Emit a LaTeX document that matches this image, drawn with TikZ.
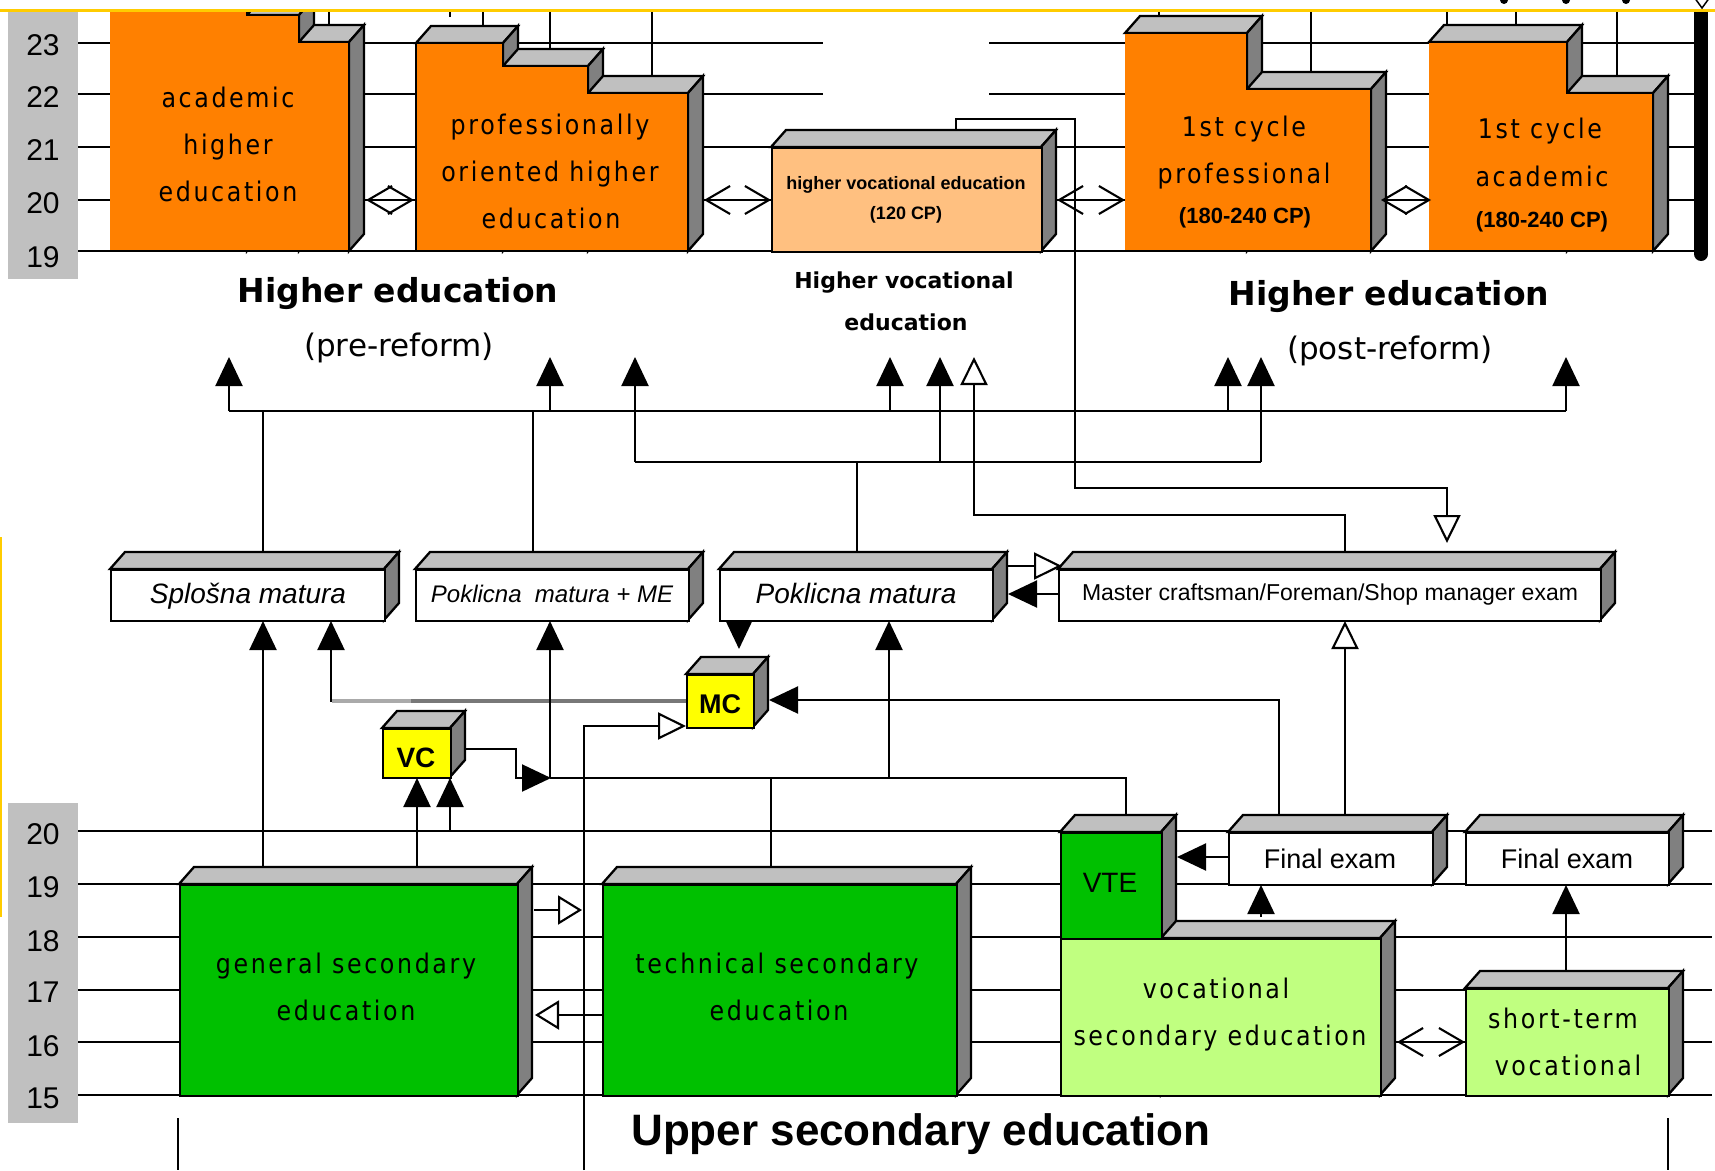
\documentclass[tikz,border=0pt]{standalone}
\usepackage{fontspec}
\usepackage{graphicx}
\setmainfont{Liberation Sans}
\newfontfamily\ar{Liberation Sans}
\newfontfamily\dv{DejaVu Sans}
\newfontfamily\bx{DejaVu Sans}[LetterSpace=11]
\usetikzlibrary{arrows.meta}
\definecolor{orng}{RGB}{255,128,0}
\definecolor{lorng}{RGB}{255,192,128}
\definecolor{grn}{RGB}{0,192,0}
\definecolor{lgrn}{RGB}{192,255,128}
\definecolor{yel}{RGB}{255,255,0}
\definecolor{topg}{RGB}{192,192,192}
\definecolor{sideg}{RGB}{128,128,128}
\definecolor{gold}{RGB}{255,204,0}
\definecolor{mcgray}{RGB}{120,120,120}
\definecolor{mcgrayl}{RGB}{170,170,170}
\newcommand\bxt[1]{{\bx\fontsize{27}{27}\selectfont\scalebox{0.88}[1]{#1}}}
\newcommand\mkstep[4]{%
  \draw[tf] (#1,#3) -- ({#1+15},{#3-17}) -- ({#2+15},{#3-17}) -- (#2,#3) -- cycle;
  \draw[sf] (#2,#3) -- ({#2+15},{#3-17}) -- ({#2+15},{#4-17}) -- (#2,#4) -- cycle;}
\newcommand\mkcube[6]{%
  \mkstep{#2}{#4}{#3}{#5}%
  \node[ff,fill=#6,inner sep=0pt,minimum width={(#4-#2)*1pt},minimum height={(#5-#3)*1pt},anchor=north west] (#1) at (#2,#3) {};}
\begin{document}
\begin{tikzpicture}[x=1pt,y=-1pt,
  tf/.style={fill=topg,draw=black,line width=2.3pt,line join=miter},
  sf/.style={fill=sideg,draw=black,line width=2.3pt,line join=miter},
  ff/.style={draw=black,line width=2.3pt,line join=miter},
  gridl/.style={line width=2.4pt},
  con/.style={line width=2.1pt},
  fa/.style={-{Triangle[length=29pt,width=27pt]}},
  oa/.style={-{Triangle[length=28pt,width=27pt,fill=white]}},
  soa/.style={-{Triangle[length=24pt,width=29pt,fill=white]}},
  dbl/.style={{Straight Barb[length=24pt,width=28pt]}-{Straight Barb[length=24pt,width=28pt]}},
  txt/.style={inner sep=0pt,anchor=base},
  bxl/.style={txt},
  num/.style={inner sep=0pt,font=\ar\fontsize{30}{30}\selectfont},
]
\useasboundingbox (0,0) rectangle (1715,1170);
\fill[white] (0,0) rectangle (1715,1170);

% scale bars
\fill[topg] (8,12) rectangle (78,279);
\fill[topg] (8,803) rectangle (78,1123);
\foreach \n/\y in {23/45,22/97,21/150,20/203,19/257} \node[num] (su\n) at (43,\y) {\n};
\foreach \n/\y in {20/834,19/887,18/941,17/992,16/1046,15/1098} \node[num] (sl\n) at (43,\y) {\n};

% grid lines
\foreach \y in {43,94} {\draw[gridl] (78,\y) -- (823,\y); \draw[gridl] (989,\y) -- (1694,\y);}
\foreach \y in {147,200,251} \draw[gridl] (78,\y) -- (1694,\y);
\foreach \y in {831,884,937,990,1042,1095} \draw[gridl] (78,\y) -- (1712,\y);

% vertical stubs at the top
\foreach \x/\y in {329/25,450/17,483/25,550/49,652/76,1159/16,1311/72,1447/25,1516/25,1617/76}
  \draw[con] (\x,11) -- (\x,\y);

% ---------- higher education boxes ----------
\begin{scope}
\clip (0,11.5) rectangle (1715,300);
\mkstep{110}{247}{-60}{251}
\mkstep{247}{299}{15}{251}
\mkstep{299}{349}{42}{251}
\fill[orng] (110,-60) -- (110,251) -- (349,251) -- (349,42) -- (299,42) -- (299,15) -- (247,15) -- (247,-60) -- cycle;
\draw[ff] (110,251) -- (349,251) -- (349,42) -- (299,42) -- (299,15) -- (247,15) -- (247,-60);
\end{scope}
\coordinate (acad) at (229,150);

\mkstep{416}{503}{43}{251}
\mkstep{503}{588}{66}{251}
\mkstep{588}{688}{93}{251}
\draw[ff,fill=orng] (416,43) -- (416,251) -- (688,251) -- (688,93) -- (588,93) -- (588,66) -- (503,66) -- (503,43) -- cycle;
\coordinate (prof) at (552,150);

\mkcube{hvoc}{771}{147}{1041}{251}{lorng}

\mkstep{1125}{1247}{33}{251}
\mkstep{1247}{1371}{89}{251}
\fill[orng] (1125,33) -- (1125,251) -- (1371,251) -- (1371,89) -- (1247,89) -- (1247,33) -- cycle;
\draw[ff] (1125,251) -- (1371,251) -- (1371,89) -- (1247,89) -- (1247,33) -- (1125,33);
\coordinate (cprof) at (1248,150);

\mkstep{1429}{1567}{42}{251}
\mkstep{1567}{1653}{93}{251}
\fill[orng] (1429,42) -- (1429,251) -- (1653,251) -- (1653,93) -- (1567,93) -- (1567,42) -- cycle;
\draw[ff] (1429,251) -- (1653,251) -- (1653,93) -- (1567,93) -- (1567,42) -- (1429,42);
\coordinate (cacad) at (1541,150);

% right bar
\fill (1694,11) rectangle (1708,254);
\fill (1701,254) circle (7);

% ---------- exams ----------
\mkcube{splosna}{110}{569}{384}{620}{white}
\mkcube{pme}{415}{569}{688}{620}{white}
\mkcube{pm}{719}{569}{992}{620}{white}
\mkcube{master}{1058}{569}{1600}{620}{white}
\mkcube{mc}{686}{674}{753}{727}{yel}
\mkcube{vc}{382}{728}{450}{777}{yel}

% ---------- secondary ----------
\mkcube{gen}{179}{884}{517}{1095}{grn}
\mkcube{tech}{602}{884}{956}{1095}{grn}
\mkstep{1060}{1161}{832}{1095}
\mkstep{1161}{1380}{938}{1095}
\node[ff,fill=lgrn,inner sep=0pt,minimum width=320pt,minimum height=157pt,anchor=north west] (voc) at (1060,938) {};
\node[ff,fill=grn,inner sep=0pt,minimum width=101pt,minimum height=106pt,anchor=north west] (vte) at (1060,832) {};
\mkcube{short}{1465}{988}{1668}{1095}{lgrn}
\mkcube{fe1}{1228}{832}{1432}{884}{white}
\mkcube{fe2}{1465}{832}{1668}{884}{white}

% ---------- connectors ----------
% double arrows
\draw[con,dbl] (366,200) -- (414,200);
\draw[con,dbl] (704,200) -- (771,200);
\draw[con,dbl] (1057,200) -- (1125,200);
\draw[con,dbl] (1381,200) -- (1431,200);
\draw[con,dbl] (1397,1042) -- (1465,1042);

% trunk to higher education
\draw[con] (263,552) -- (263,411);
\draw[con] (533,552) -- (533,411);
\draw[con] (229,411) -- (1566,411);
\foreach \x in {229,550,890,1228,1566} \draw[con,fa] (\x,411) -- (\x,357);
\draw[con] (857,552) -- (857,462);
\draw[con] (635,462) -- (1261,462);
\foreach \x in {635,940,1261} \draw[con,fa] (\x,462) -- (\x,357);
\draw[con,oa] (1345,552) -- (1345,515) -- (974,515) -- (974,357);
\draw[con,oa] (956,130) -- (956,119) -- (1075,119) -- (1075,488) -- (1447,488) -- (1447,543);

% into the exams
\draw[con,fa] (263,866) -- (263,621);
\draw[con,fa] (686,701) -- (331,701) -- (331,621);
\draw[line width=3.5pt,mcgray] (686,701) -- (411,701);
\draw[line width=3.5pt,mcgrayl] (411,701) -- (332,701);
\draw[con,fa] (466,749) -- (516,749) -- (516,778) -- (551,778);
\draw[con,fa] (550,778) -- (550,621);
\draw[con] (1126,815) -- (1126,778) -- (550,778);
\draw[con] (771,866) -- (771,778);
\draw[con,fa] (889,778) -- (889,621);
\draw[con,fa] (739,620) -- (739,649);
\draw[con,fa] (1279,815) -- (1279,700) -- (769,700);
\draw[con,oa] (1345,815) -- (1345,621);
\draw[con,oa] (584,1170) -- (584,726) -- (686,726);
\draw[con,oa] (1008,566) -- (1062,566);
\draw[con,fa] (1058,594) -- (1008,594);
\draw[con,fa] (417,866) -- (417,778);
\draw[con,fa] (450,831) -- (450,778);
\draw[con,fa] (1228,857) -- (1177,857);
\draw[con,fa] (1261,917) -- (1261,885);
\draw[con,fa] (1566,971) -- (1566,885);
\draw[con,soa] (534,910) -- (582,910);
\draw[con,soa] (602,1015) -- (535,1015);
\draw[con] (178,1118) -- (178,1170);
\draw[con] (1668,1118) -- (1668,1170);

% ---------- texts ----------
\node[bxl] (t1) at (228,107) {\bxt{academic}};
\node[bxl] (t2) at (228,154) {\bxt{higher}};
\node[bxl] (t3) at (228,201) {\bxt{education}};
\node[bxl] (t4) at (550,134) {\bxt{professionally}};
\node[bxl] (t5) at (550,181) {\bxt{oriented higher}};
\node[bxl] (t6) at (551,228) {\bxt{education}};
\node[txt,font=\ar\bfseries\fontsize{18}{18}\selectfont] (t7) at (906,189) {higher vocational education};
\node[txt,font=\ar\bfseries\fontsize{18}{18}\selectfont] (t8) at (906,219) {(120 CP)};
\node[bxl] (t9) at (1244,136) {\bxt{1st cycle}};
\node[bxl] (t10) at (1244,183) {\bxt{professional}};
\node[txt,font=\ar\bfseries\fontsize{22}{22}\selectfont] (t11) at (1245,223) {(180-240 CP)};
\node[bxl] (t12) at (1540,138) {\bxt{1st cycle}};
\node[bxl] (t13) at (1542,186) {\bxt{academic}};
\node[txt,font=\ar\bfseries\fontsize{22}{22}\selectfont] (t14) at (1542,227) {(180-240 CP)};

\node[txt,font=\dv\bfseries\fontsize{33}{33}\selectfont] (h1) at (398,302) {Higher education};
\node[txt,font=\dv\fontsize{31}{31}\selectfont] (h2) at (399,356) {(pre-reform)};
\node[txt,font=\dv\bfseries\fontsize{33}{33}\selectfont] (h3) at (1389,305) {Higher education};
\node[txt,font=\dv\fontsize{31}{31}\selectfont] (h4) at (1390,359) {(post-reform)};
\node[txt,font=\dv\bfseries\fontsize{22}{22}\selectfont] (h5) at (904,288) {Higher vocational};
\node[txt,font=\dv\bfseries\fontsize{22}{22}\selectfont] (h6) at (906,330) {education};
\node[txt,font=\ar\bfseries\fontsize{44}{44}\selectfont] (h7) at (921,1145) {Upper secondary education};

\node[txt,font=\ar\itshape\fontsize{28}{28}\selectfont] (e1) at (248,603) {Splošna matura};
\node[txt,font=\ar\itshape\fontsize{24}{24}\selectfont] (e2) at (552,602) {Poklicna~~matura + ME};
\node[txt,font=\ar\itshape\fontsize{28}{28}\selectfont] (e3) at (856,603) {Poklicna matura};
\node[txt,font=\ar\fontsize{23}{23}\selectfont] (e4) at (1330,600) {Master craftsman/Foreman/Shop manager exam};
\node[txt,font=\ar\bfseries\fontsize{27}{27}\selectfont] (e5) at (720,713) {MC};
\node[txt,font=\ar\bfseries\fontsize{28}{28}\selectfont] (e6) at (416,767) {VC};

\node[bxl] (s1) at (346,973) {\bxt{general secondary}};
\node[bxl] (s2) at (346,1020) {\bxt{education}};
\node[bxl] (s3) at (777,973) {\bxt{technical secondary}};
\node[bxl] (s4) at (779,1020) {\bxt{education}};
\node[txt,font=\ar\fontsize{28}{28}\selectfont] (s5) at (1110,892) {VTE};
\node[bxl] (s6) at (1216,998) {\bxt{vocational}};
\node[bxl] (s7) at (1220,1045) {\bxt{secondary education}};
\node[bxl] (s8) at (1563,1028) {\bxt{short-term}};
\node[bxl] (s9) at (1568,1075) {\bxt{vocational}};
\node[txt,font=\ar\fontsize{27}{27}\selectfont] (s10) at (1330,868) {Final exam};
\node[txt,font=\ar\fontsize{27}{27}\selectfont] (s11) at (1567,868) {Final exam};

% frame remnants
\draw[gold,line width=3pt] (0,10) -- (1715,10);
\draw[gold,line width=2.5pt] (1,537) -- (1,917);
\foreach \x in {1504,1566,1626} \fill (\x,0) circle (4);
\draw[line width=1.5pt,fill=white] (1694,-3) -- (1710,-3) -- (1702,8) -- cycle;
\end{tikzpicture}
\end{document}
